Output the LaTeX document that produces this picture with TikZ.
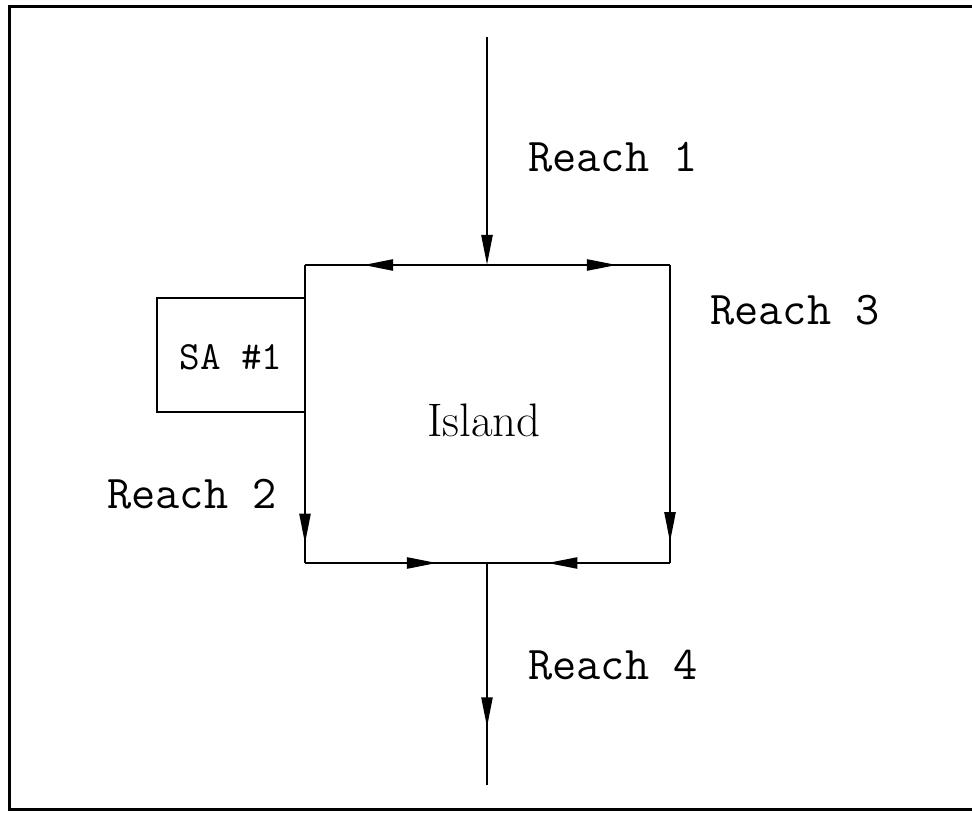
\documentclass[tikz,border=0pt]{standalone}
\usepackage{fontspec}
\usetikzlibrary{arrows.meta,decorations.markings}
\tikzset{
  wire/.style={line width=2.4pt},
  tipa/.tip={Triangle[length=30pt,width=11pt]},
  midarrow/.style={decoration={markings,mark=at position #1 with {\arrow{tipa}}},postaction={decorate}},
  lbl/.style={font=\ttfamily\fontsize{47}{56}\selectfont, inner sep=0pt, anchor=west},
  frameline/.style={line width=3pt}
}
\begin{document}
\begin{tikzpicture}[x=1pt,y=1pt]
\useasboundingbox (0,0) rectangle (972,812);
% outer frame (right side runs off the picture)
\coordinate (f1) at (972,805);
\coordinate (f2) at (9,805);
\coordinate (f3) at (9,3);
\coordinate (f4) at (972,3);
\draw[frameline] (f1) -- (f2) -- (f3) -- (f4);
% key points
\coordinate (top) at (487,775);
\coordinate (TJ) at (487,547);
\coordinate (TL) at (305,547);
\coordinate (TR) at (670,547);
\coordinate (BL) at (305,249);
\coordinate (BR) at (670,249);
\coordinate (BJ) at (487,249);
\coordinate (bot) at (487,27);
\coordinate (SA1) at (305,514);
\coordinate (SA2) at (157,514);
\coordinate (SA3) at (157,400);
\coordinate (SA4) at (305,400);
% connectors
\draw[wire,-{tipa}] (top) -- (TJ);
\draw[wire,midarrow=0.68] (TJ) -- (TL);
\draw[wire,midarrow=0.71] (TJ) -- (TR);
\draw[wire,midarrow=0.935] (TL) -- (BL);
\draw[wire,midarrow=0.93] (TR) -- (BR);
\draw[wire,midarrow=0.725] (BL) -- (BJ);
\draw[wire,midarrow=0.67] (BR) -- (BJ);
\draw[wire,midarrow=0.74] (BJ) -- (bot);
% SA box
\draw[wire] (SA1) -- (SA2) -- (SA3) -- (SA4);
\node[font=\ttfamily\fontsize{40}{48}\selectfont, inner sep=0pt] (sa) at (231,455) {SA \#1};
% labels
\node[font=\rmfamily\fontsize{47}{56}\selectfont, inner sep=0pt] (island) at (484,392) {Island};
\node[lbl] (r1) at (528,655) {Reach 1};
\node[lbl] (r3) at (710,502) {Reach 3};
\node[lbl] (r2) at (107,318) {Reach 2};
\node[lbl] (r4) at (528,147) {Reach 4};
\end{tikzpicture}
\end{document}
